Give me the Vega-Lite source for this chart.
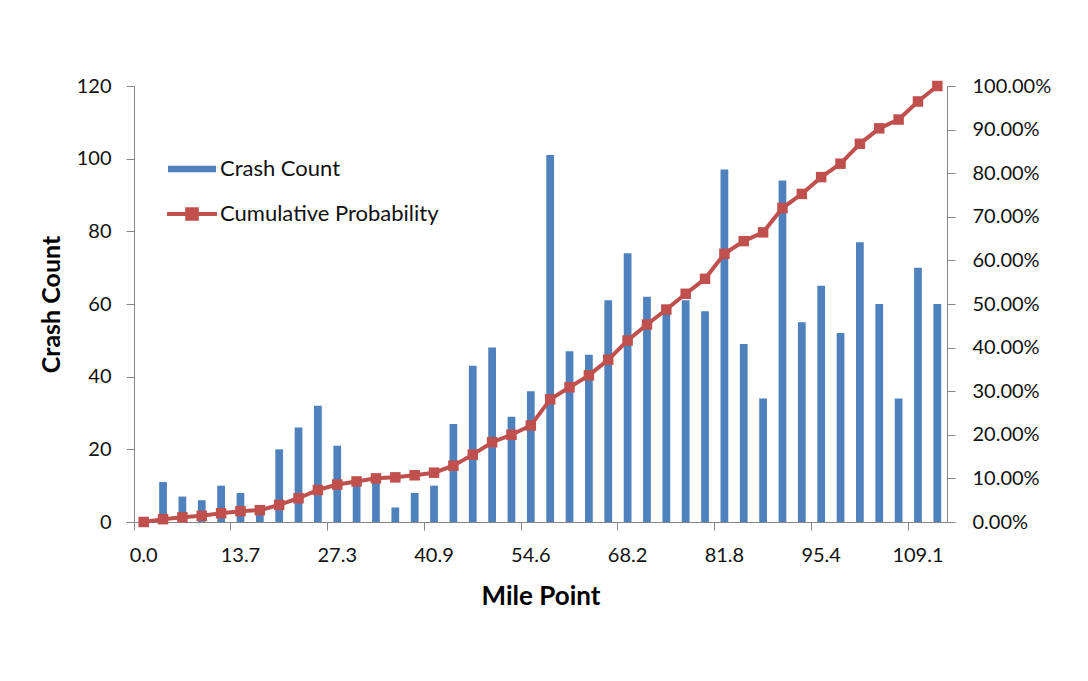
{
  "$schema": "https://vega.github.io/schema/vega-lite/v6.json",
  "autosize": {"type": "none"},
  "padding": {"left": 134, "top": 86, "right": 141, "bottom": 159},
  "width": 813,
  "height": 436,
  "background": "white",
  "config": {
    "view": {"stroke": null},
    "font": "Lato",
    "axis": {
      "grid": false,
      "domainColor": "#868686",
      "tickColor": "#868686",
      "labelFont": "Lato",
      "labelFontSize": 20,
      "labelColor": "#111111",
      "titleFont": "Lato",
      "titleFontWeight": "bold",
      "titleFontSize": 25,
      "titleColor": "#000000",
      "tickSize": 8
    }
  },
  "data": {
    "values": [
      {"mile": "0.0", "count": 0, "cum": 0},
      {"mile": "2.7", "count": 11, "cum": 0.0065},
      {"mile": "5.5", "count": 7, "cum": 0.0107},
      {"mile": "8.2", "count": 6, "cum": 0.0142},
      {"mile": "10.9", "count": 10, "cum": 0.0201},
      {"mile": "13.7", "count": 8, "cum": 0.0249},
      {"mile": "16.4", "count": 4, "cum": 0.0272},
      {"mile": "19.1", "count": 20, "cum": 0.0391},
      {"mile": "21.8", "count": 26, "cum": 0.0545},
      {"mile": "24.5", "count": 32, "cum": 0.0734},
      {"mile": "27.3", "count": 21, "cum": 0.0859},
      {"mile": "30.0", "count": 12, "cum": 0.093},
      {"mile": "32.7", "count": 12, "cum": 0.1001},
      {"mile": "35.5", "count": 4, "cum": 0.1024},
      {"mile": "38.2", "count": 8, "cum": 0.1072},
      {"mile": "40.9", "count": 10, "cum": 0.1131},
      {"mile": "43.6", "count": 27, "cum": 0.1291},
      {"mile": "46.4", "count": 43, "cum": 0.1545},
      {"mile": "49.1", "count": 48, "cum": 0.1829},
      {"mile": "51.8", "count": 29, "cum": 0.2001},
      {"mile": "54.6", "count": 36, "cum": 0.2214},
      {"mile": "57.3", "count": 101, "cum": 0.2812},
      {"mile": "60.0", "count": 47, "cum": 0.3091},
      {"mile": "62.7", "count": 46, "cum": 0.3363},
      {"mile": "65.5", "count": 61, "cum": 0.3724},
      {"mile": "68.2", "count": 74, "cum": 0.4162},
      {"mile": "70.9", "count": 62, "cum": 0.4529},
      {"mile": "73.6", "count": 58, "cum": 0.4873},
      {"mile": "76.4", "count": 61, "cum": 0.5234},
      {"mile": "79.1", "count": 58, "cum": 0.5577},
      {"mile": "81.8", "count": 97, "cum": 0.6152},
      {"mile": "84.6", "count": 49, "cum": 0.6442},
      {"mile": "87.3", "count": 34, "cum": 0.6643},
      {"mile": "90.0", "count": 94, "cum": 0.72},
      {"mile": "92.7", "count": 55, "cum": 0.7525},
      {"mile": "95.4", "count": 65, "cum": 0.791},
      {"mile": "98.2", "count": 52, "cum": 0.8218},
      {"mile": "100.9", "count": 77, "cum": 0.8674},
      {"mile": "103.6", "count": 60, "cum": 0.9029},
      {"mile": "106.4", "count": 34, "cum": 0.923},
      {"mile": "109.1", "count": 70, "cum": 0.9645},
      {"mile": "111.8", "count": 60, "cum": 1.0}
    ]
  },
  "encoding": {
    "x": {
      "field": "mile",
      "type": "ordinal",
      "sort": null,
      "scale": {"paddingInner": 0, "paddingOuter": 0},
      "axis": {
        "values": ["0.0", "13.7", "27.3", "40.9", "54.6", "68.2", "81.8", "95.4", "109.1"],
        "bandPosition": 0,
        "labelAngle": 0,
        "labelPadding": 15,
        "title": "Mile Point",
        "titleFontSize": 26,
        "titlePadding": 18
      }
    }
  },
  "layer": [
    {
      "mark": {"type": "bar", "width": {"band": 0.4}},
      "encoding": {
        "y": {
          "field": "count",
          "type": "quantitative",
          "scale": {"domain": [0, 120], "nice": false},
          "axis": {
            "values": [0, 20, 40, 60, 80, 100, 120],
            "title": "Crash Count",
            "labelPadding": 15,
            "titlePadding": 12
          }
        },
        "color": {
          "datum": "Crash Count",
          "type": "nominal",
          "scale": {"domain": ["Crash Count", "Cumulative Probability"], "range": ["#4F81BD", "#C0504D"]},
          "legend": {
            "orient": "none",
            "legendX": 47,
            "legendY": 72,
            "title": null,
            "padding": 0,
            "symbolSize": 2304,
            "rowPadding": 21,
            "labelFont": "Lato",
            "labelFontSize": 22,
            "labelLimit": 500,
            "labelColor": "#111111",
            "labelOffset": 17,
            "symbolType": {"expr": "datum.value === 'Crash Count' ? 'M-1,-0.14H1V0.14H-1Z' : 'M-1.04,0H1.04M-0.2,-0.2H0.2V0.2H-0.2Z'"},
            "symbolStrokeWidth": {"expr": "datum.value === 'Crash Count' ? 0 : 4"},
            "symbolFillColor": {"expr": "datum.value === 'Crash Count' ? '#4F81BD' : '#C0504D'"},
            "symbolStrokeColor": {"expr": "datum.value === 'Crash Count' ? '#4F81BD' : '#C0504D'"}
          }
        }
      }
    },
    {
      "mark": {
        "type": "line",
        "strokeWidth": 4,
        "point": {"shape": "square", "size": 110, "filled": true, "color": "#C0504D"}
      },
      "encoding": {
        "y": {
          "field": "cum",
          "type": "quantitative",
          "scale": {"domain": [0, 1], "nice": false},
          "axis": {
            "orient": "right",
            "values": [0, 0.1, 0.2, 0.3, 0.4, 0.5, 0.6, 0.7, 0.8, 0.9, 1.0],
            "format": ".2%",
            "labelPadding": 17,
            "title": null
          }
        },
        "color": {"datum": "Cumulative Probability", "type": "nominal"}
      }
    }
  ],
  "resolve": {"scale": {"y": "independent"}}
}
